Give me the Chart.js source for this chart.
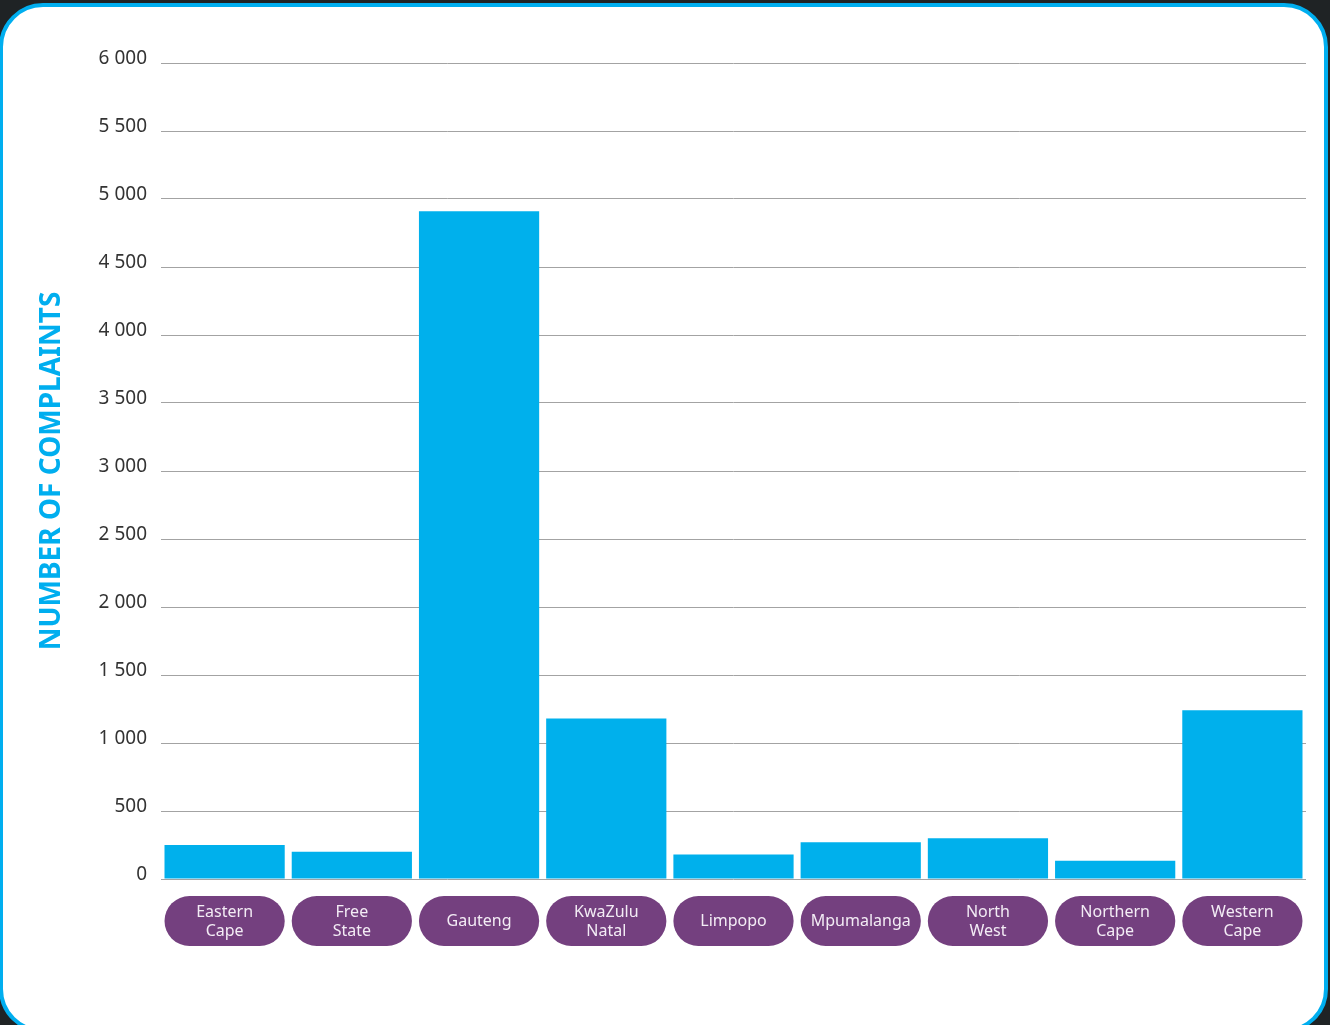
<!DOCTYPE html>
<html>
<head>
<meta charset="utf-8">
<script src="https://cdn.jsdelivr.net/npm/chart.js@4"></script>
<style>
    html, body { margin: 0; padding: 0; background: #1f2325; width: 1330px; height: 1025px; overflow: hidden; }
    #frame {
        position: absolute; left: -1px; top: 3px; width: 1329px; height: 1030px;
        box-sizing: border-box; background: #fff; border: 4px solid #00aeef; border-radius: 44px;
    }
    #wrap { position: absolute; left: 0; top: 0; width: 1330px; height: 1025px; }
</style>
</head>
<body>
<div id="frame"></div>
<div id="wrap"><canvas id="chart"></canvas></div>
<script>
// provinces along the x axis
var provinces = [
    ['Eastern', 'Cape'], ['Free', 'State'], 'Gauteng', ['KwaZulu', 'Natal'], 'Limpopo',
    'Mpumalanga', ['North', 'West'], ['Northern', 'Cape'], ['Western', 'Cape']
];

// number of complaints per province
var complaints = [250, 200, 4910, 1180, 180, 270, 300, 135, 1240];

var yTicks = [0, 500, 1000, 1500, 2000, 2500, 3000, 3500, 4000, 4500, 5000, 5500, 6000];

var BLUE = '#00b0ec';
var PURPLE = '#74407f';

// purple pills behind the province names
var pills = {
    id: 'pills',
    beforeDraw: function (chart) {
        var x = chart.scales.x;
        var ctx = chart.ctx;
        var w = x.width / provinces.length - 7;
        ctx.save();
        ctx.fillStyle = PURPLE;
        provinces.forEach(function (p, i) {
            var cx = x.getPixelForTick(i);
            ctx.beginPath();
            ctx.roundRect(cx - w / 2, 896, w, 50, 25);
            ctx.fill();
        });
        ctx.restore();
    }
};

var ctx = document.getElementById('chart');

var barChart = new Chart(ctx, {
    type: 'bar',
    data: {
        labels: provinces,
        datasets: [
            {
                label: 'Number of complaints',
                data: complaints,
                backgroundColor: BLUE,
                borderWidth: 0,
                categoryPercentage: 1,
                barPercentage: 0.945
            }
        ]
    },
    options: {
        responsive: true,
        maintainAspectRatio: false,
        animation: false,
        layout: { padding: { top: 63, right: 24, left: 0, bottom: 0 } },
        plugins: { legend: { display: false }, tooltip: { enabled: false } },
        scales: {
            x: {
                grid: { display: false },
                border: { display: false },
                ticks: {
                    color: '#f3ecf5',
                    font: { family: 'Noto Sans', size: 16 },
                    padding: 25,
                    crossAlign: 'center',
                    maxRotation: 0,
                    autoSkip: false
                },
                afterFit: function (s) { s.height = 146; }
            },
            y: {
                min: 0,
                max: 6000,
                afterBuildTicks: function (s) {
                    s.ticks = yTicks.map(function (v) { return { value: v }; });
                },
                grid: { color: '#a3a3a3', lineWidth: 1, drawTicks: false },
                border: { display: false },
                ticks: {
                    color: '#333',
                    font: { family: 'Noto Sans', size: 19 },
                    padding: 14,
                    labelOffset: -4,
                    callback: function (v) {
                        return v >= 1000 ? Math.floor(v / 1000) + ' ' + String(v % 1000).padStart(3, '0') : String(v);
                    }
                },
                title: {
                    display: true,
                    text: 'NUMBER OF COMPLAINTS',
                    color: '#00aeef',
                    font: { family: 'Noto Sans', size: 28, weight: 'bold' },
                    padding: { top: 35, bottom: 0 }
                },
                afterFit: function (s) { s.width = 161; }
            }
        }
    },
    plugins: [pills]
});
</script>
</body>
</html>
